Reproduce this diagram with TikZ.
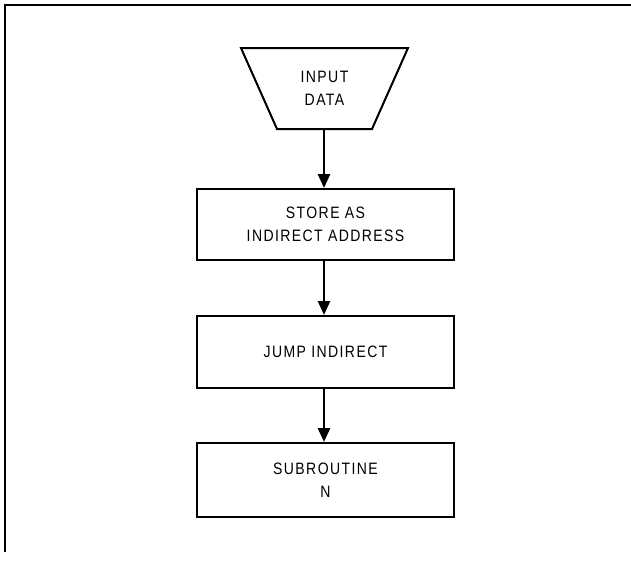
\documentclass[tikz,border=0pt]{standalone}
\usepackage{fontspec}
\setmainfont{Liberation Sans}[FakeStretch=0.85,LetterSpace=8.5]
\usetikzlibrary{arrows.meta}
\begin{document}
\begin{tikzpicture}[x=1pt,y=-1pt,
  lbl/.style={font=\fontsize{16.5}{23}\selectfont,align=center,inner sep=0pt},
  procbox/.style={draw,line width=2pt,minimum width=257pt,inner sep=0pt,font=\fontsize{16.5}{23}\selectfont,align=center},
  flow/.style={line width=2.6pt,-{Triangle[length=14pt,width=12pt]}},
  frameline/.style={line width=2pt}]
\useasboundingbox (0,0) rectangle (631,562);
% frame
\coordinate (f1) at (631,5);
\coordinate (f2) at (5,5);
\coordinate (f3) at (5,552);
\draw[frameline] (f1) -- (f2) -- (f3);
% input trapezoid
\coordinate (t1) at (241,48);
\coordinate (t2) at (408,48);
\coordinate (t3) at (372,129);
\coordinate (t4) at (277,129);
\draw[line width=2pt,line join=miter] (t1) -- (t2) -- (t3) -- (t4) -- cycle;
\node[lbl] (in) at (324.5,88) {INPUT\\DATA};
\coordinate (inb) at (324,129);
% boxes
\node[procbox,minimum height=71pt] (s1) at (325.5,224.5) {STORE AS\\INDIRECT ADDRESS};
\node[procbox,minimum height=72pt] (s2) at (325.5,352) {JUMP INDIRECT};
\node[procbox,minimum height=74pt] (s3) at (325.5,480) {SUBROUTINE\\N};
% connectors
\draw[flow] (inb) -- (inb |- s1.north);
\draw[flow] (s1.south -| inb) -- (inb |- s2.north);
\draw[flow] (s2.south -| inb) -- (inb |- s3.north);
\end{tikzpicture}
\end{document}
